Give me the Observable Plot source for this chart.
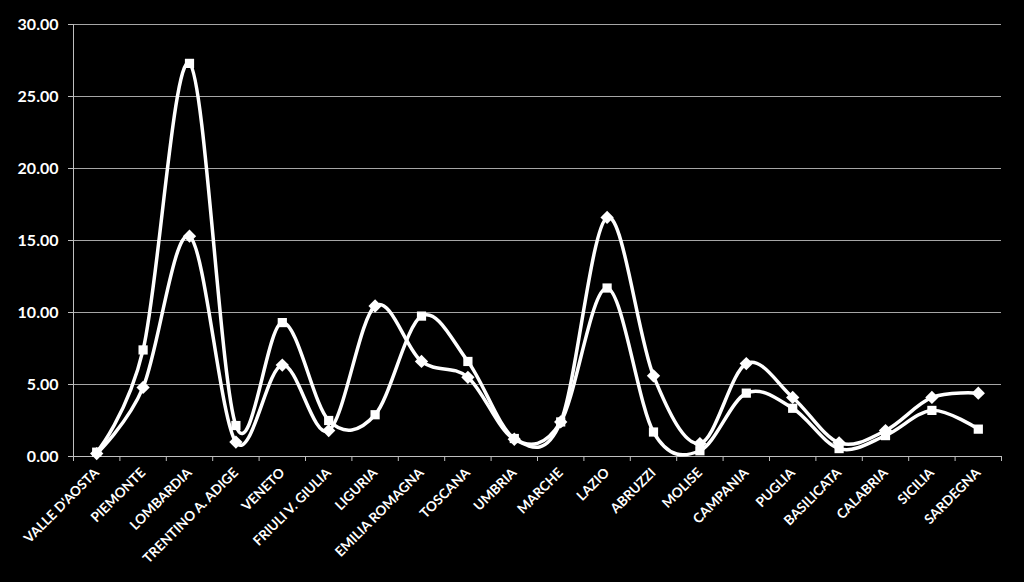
<!DOCTYPE html>
<html>
<head>
<meta charset="utf-8">
<script src="https://cdn.jsdelivr.net/npm/d3@7"></script>
<script src="https://cdn.jsdelivr.net/npm/@observablehq/plot@0.6"></script>
<style>
  html, body { margin: 0; padding: 0; background: #000; }
  #chart svg { display: block; }
</style>
</head>
<body>
<div id="chart"></div>
<script>
const categories = ["VALLE D'AOSTA","PIEMONTE","LOMBARDIA","TRENTINO A. ADIGE","VENETO","FRIULI V. GIULIA","LIGURIA","EMILIA ROMAGNA","TOSCANA","UMBRIA","MARCHE","LAZIO","ABRUZZI","MOLISE","CAMPANIA","PUGLIA","BASILICATA","CALABRIA","SICILIA","SARDEGNA"];
const seriesSquare = [0.3, 7.4, 27.3, 2.15, 9.3, 2.5, 2.9, 9.75, 6.6, 1.25, 2.4, 11.7, 1.7, 0.4, 4.4, 3.35, 0.55, 1.45, 3.2, 1.9];
const seriesDiamond = [0.2, 4.8, 15.3, 1.0, 6.35, 1.8, 10.45, 6.6, 5.5, 1.2, 2.4, 16.6, 5.6, 0.9, 6.45, 4.1, 0.95, 1.8, 4.1, 4.4];
const yTicks = [0, 5, 10, 15, 20, 25, 30];

const idx = d3.range(categories.length);
const sq = idx.map(i => ({i, v: seriesSquare[i]}));
const dm = idx.map(i => ({i, v: seriesDiamond[i]}));
const bounds = d3.range(categories.length + 1).map(i => i - 0.5);

const font = "Lato, 'Open Sans', sans-serif";

const chart = Plot.plot({
  width: 1024,
  height: 582,
  marginLeft: 73,
  marginRight: 23,
  marginTop: 24,
  marginBottom: 126,
  style: {background: "#000", color: "#fff", fontFamily: font},
  x: {domain: [-0.5, categories.length - 0.5]},
  y: {domain: [0, 30]},
  marks: [
    Plot.gridY(yTicks, {stroke: "#a6a6a6", strokeOpacity: 1, strokeWidth: 1}),
    Plot.ruleX([-0.5], {stroke: "#bfbfbf", strokeWidth: 1}),
    Plot.ruleY([0], {stroke: "#bfbfbf", strokeWidth: 1}),
    Plot.axisY({ticks: yTicks, tickFormat: d3.format(".2f"), tickSize: 5, tickPadding: 10, stroke: "#bfbfbf", fill: "#fff", fontSize: 16, fontWeight: "bold", label: null}),
    Plot.axisX({ticks: bounds, tickFormat: () => "", tickSize: 5, stroke: "#bfbfbf", label: null}),
    Plot.axisX({ticks: idx, tickFormat: i => categories[i], tickSize: 0, tickPadding: 14, tickRotate: -45, fill: "#fff", fontSize: 13.5, fontWeight: "bold", label: null}),
    Plot.line(sq, {x: "i", y: "v", stroke: "#fff", strokeWidth: 3.5, curve: "cardinal"}),
    Plot.line(dm, {x: "i", y: "v", stroke: "#fff", strokeWidth: 3.5, curve: "cardinal"}),
    Plot.dot(sq, {x: "i", y: "v", symbol: "square", r: 5.2, fill: "#fff", stroke: "none"}),
    Plot.dot(dm, {x: "i", y: "v", symbol: "diamond2", r: 6, fill: "#fff", stroke: "none"})
  ]
});
document.getElementById("chart").appendChild(chart);
</script>
</body>
</html>
